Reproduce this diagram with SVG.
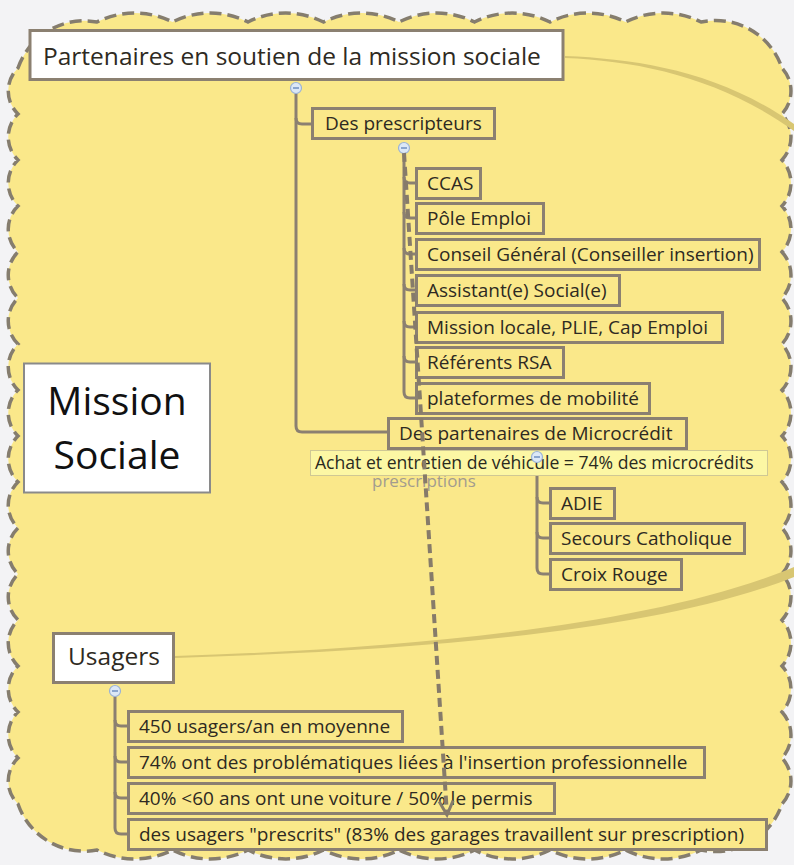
<svg xmlns="http://www.w3.org/2000/svg" xmlns:xlink="http://www.w3.org/1999/xlink" width="794" height="865" viewBox="0 0 794 865">
<style>
.t{font-family:"Open Sans","Noto Sans",sans-serif;font-size:19px;fill:#2e2a22}
.box{fill:#fae88a;stroke:#8b8071;stroke-width:3}
.wbox{fill:#ffffff;stroke:#8b8071;stroke-width:3}
.conn{fill:none;stroke:#8b8071;stroke-width:3}
.curve{fill:#d8c672;stroke:none}
</style>
<defs>
<g id="minus"><circle cx="0" cy="0" r="5.5" fill="#dce8f6" stroke="#9bb3d6" stroke-width="1.2"/><path d="M-3,0H3" stroke="#5f83b8" stroke-width="1.3"/></g>
<marker id="vhead" markerUnits="userSpaceOnUse" viewBox="-16 -10 20 20" markerWidth="20" markerHeight="20" refX="0" refY="0" orient="auto" overflow="visible">
<path d="M-14,-7 L0,0 L-14,7" fill="none" stroke="#867b6a" stroke-width="3"/>
</marker>
</defs>
<rect x="0" y="0" width="794" height="865" fill="#f3f3f5"/>
<g id="cloud">
<path d="M18,68 A70 70 0 0 1 97,22 A84 84 0 0 1 172.5,22 A84 84 0 0 1 248,22 A84 84 0 0 1 323.5,22 A84 84 0 0 1 399,22 A84 84 0 0 1 474.5,22 A84 84 0 0 1 550,22 A84 84 0 0 1 625.5,22 A84 84 0 0 1 701,22 A70 70 0 0 1 782,68 A34 34 0 0 1 782,114 A34 34 0 0 1 782,160 A34 34 0 0 1 782,206 A34 34 0 0 1 782,252 A34 34 0 0 1 782,298 A34 34 0 0 1 782,344 A34 34 0 0 1 782,390 A34 34 0 0 1 782,436 A34 34 0 0 1 782,482 A34 34 0 0 1 782,528 A34 34 0 0 1 782,574 A34 34 0 0 1 782,620 A34 34 0 0 1 782,666 A34 34 0 0 1 782,712 A34 34 0 0 1 782,758 A34 34 0 0 1 782,804 A70 70 0 0 1 701,850 A84 84 0 0 1 625.5,850 A84 84 0 0 1 550,850 A84 84 0 0 1 474.5,850 A84 84 0 0 1 399,850 A84 84 0 0 1 323.5,850 A84 84 0 0 1 248,850 A84 84 0 0 1 172.5,850 A84 84 0 0 1 97,850 A70 70 0 0 1 18,804 A32 32 0 0 1 18,758 A32 32 0 0 1 18,712 A32 32 0 0 1 18,666 A32 32 0 0 1 18,620 A32 32 0 0 1 18,574 A32 32 0 0 1 18,528 A32 32 0 0 1 18,482 A32 32 0 0 1 18,436 A32 32 0 0 1 18,390 A32 32 0 0 1 18,344 A32 32 0 0 1 18,298 A32 32 0 0 1 18,252 A32 32 0 0 1 18,206 A32 32 0 0 1 18,160 A32 32 0 0 1 18,114 A32 32 0 0 1 18,68 Z" fill="#fae88a" stroke="#857d6e" stroke-width="3.5" stroke-dasharray="12 6"/>
</g>
<g id="connectors">
<path class="curve" d="M565,56 C640,59 720,72 794,124 L794,131 C720,78 640,61 565,58 Z"/>
<path class="curve" d="M175,656 C400,649 650,627 794,567 L794,577 C650,634 400,651 175,658 Z"/>
<path class="conn" d="M296,93 V426 Q296,432 302,432 H388"/>
<path class="conn" d="M296,118 Q296,124 302,124 H312"/>
<path class="conn" d="M404,153 V392 Q404,398 410,398 H416"/>
<path class="conn" d="M404,177 Q404,183 410,183 H416"/>
<path class="conn" d="M404,212 Q404,218 410,218 H416"/>
<path class="conn" d="M404,248 Q404,254 410,254 H416"/>
<path class="conn" d="M404,284 Q404,290 410,290 H416"/>
<path class="conn" d="M404,321 Q404,327 410,327 H416"/>
<path class="conn" d="M404,356 Q404,362 410,362 H416"/>
<path class="conn" d="M537,462 V568 Q537,574 543,574 H550"/>
<path class="conn" d="M537,497 Q537,503 543,503 H550"/>
<path class="conn" d="M537,532 Q537,538 543,538 H550"/>
<path class="conn" d="M115,696 V828 Q115,834 121,834 H128"/>
<path class="conn" d="M115,720 Q115,726 121,726 H128"/>
<path class="conn" d="M115,756 Q115,762 121,762 H128"/>
<path class="conn" d="M115,792 Q115,798 121,798 H128"/>
</g>
<g id="n-title"><rect class="wbox" x="30" y="30.5" width="533" height="49"/><text class="t" x="43" y="64.5" style="font-size:24.5px" fill="#333">Partenaires en soutien de la mission sociale</text></g>
<g id="n-mission"><rect x="24" y="363.5" width="186" height="129" fill="#ffffff" stroke="#8a8a8a" stroke-width="2"/><text x="117" y="415" text-anchor="middle" font-family="Open Sans, Noto Sans, sans-serif" font-size="39" fill="#111">Mission</text><text x="117" y="469" text-anchor="middle" font-family="Open Sans, Noto Sans, sans-serif" font-size="39" fill="#111">Sociale</text></g>
<g id="n-prescripteurs"><rect class="box" x="312.5" y="108.5" width="182" height="30"/><text class="t" x="325" y="130">Des prescripteurs</text></g>
<g id="n-ccas"><rect class="box" x="416.5" y="168.5" width="64" height="30"/><text class="t" x="427" y="190">CCAS</text></g>
<g id="n-pole"><rect class="box" x="416.5" y="203.5" width="127" height="30"/><text class="t" x="427" y="225">Pôle Emploi</text></g>
<g id="n-conseil"><rect class="box" x="416.5" y="239.5" width="343" height="30"/><text class="t" x="427" y="261">Conseil Général (Conseiller insertion)</text></g>
<g id="n-assistant"><rect class="box" x="416.5" y="275.5" width="203" height="30"/><text class="t" x="427" y="297">Assistant(e) Social(e)</text></g>
<g id="n-mission-locale"><rect class="box" x="416.5" y="312.5" width="306" height="30"/><text class="t" x="427" y="334">Mission locale, PLIE, Cap Emploi</text></g>
<g id="n-rsa"><rect class="box" x="416.5" y="347.5" width="147" height="30"/><text class="t" x="427" y="369">Référents RSA</text></g>
<g id="n-plateformes"><rect class="box" x="416.5" y="383.5" width="233" height="30"/><text class="t" x="427" y="405">plateformes de mobilité</text></g>
<g id="n-microcredit"><rect class="box" x="388.5" y="418.5" width="298" height="30"/><text class="t" x="399" y="440">Des partenaires de Microcrédit</text></g>
<g id="n-prescriptions-label"><text x="372" y="487" font-family="Open Sans, Noto Sans, sans-serif" font-size="17" fill="#a29c8f">prescriptions</text></g>
<g id="n-achat"><rect x="310.5" y="450.5" width="457" height="25" fill="#fcf7a4" stroke="#cfc894" stroke-width="1"/><text x="315" y="469" font-family="Open Sans, Noto Sans, sans-serif" font-size="17.6" fill="#2a2a1e">Achat et entretien de véhicule = 74% des microcrédits</text></g>
<g id="n-adie"><rect class="box" x="550.5" y="488.5" width="64" height="30"/><text class="t" x="561" y="510">ADIE</text></g>
<g id="n-secours"><rect class="box" x="550.5" y="523.5" width="194" height="30"/><text class="t" x="561" y="545">Secours Catholique</text></g>
<g id="n-croix"><rect class="box" x="550.5" y="559.5" width="131" height="30"/><text class="t" x="561" y="581">Croix Rouge</text></g>
<g id="n-usagers"><rect class="wbox" x="53.5" y="633.5" width="120" height="49"/><text class="t" x="68" y="664.5" style="font-size:24.5px" fill="#444">Usagers</text></g>
<g id="n-u1"><rect class="box" x="128.5" y="711.5" width="274" height="30"/><text class="t" x="139" y="733">450 usagers/an en moyenne</text></g>
<g id="n-u2"><rect class="box" x="128.5" y="747.5" width="576" height="30"/><text class="t" x="139" y="769">74% ont des problématiques liées à l'insertion professionnelle</text></g>
<g id="n-u3"><rect class="box" x="128.5" y="783.5" width="426" height="30"/><text class="t" x="139" y="805">40% &lt;60 ans ont une voiture / 50% le permis</text></g>
<g id="n-u4"><rect class="box" x="128.5" y="819.5" width="638" height="30"/><text class="t" x="139" y="841">des usagers "prescrits" (83% des garages travaillent sur prescription)</text></g>
<g id="collapse">
<use xlink:href="#minus" x="296" y="88"/>
<use xlink:href="#minus" x="404" y="148"/>
<use xlink:href="#minus" x="537" y="457"/>
<use xlink:href="#minus" x="115" y="691"/>
</g>
<g id="relation">
<path d="M404,153 L447,815" fill="none" stroke="#867b6a" stroke-width="4" stroke-dasharray="9 5" marker-end="url(#vhead)"/>
</g>
</svg>
